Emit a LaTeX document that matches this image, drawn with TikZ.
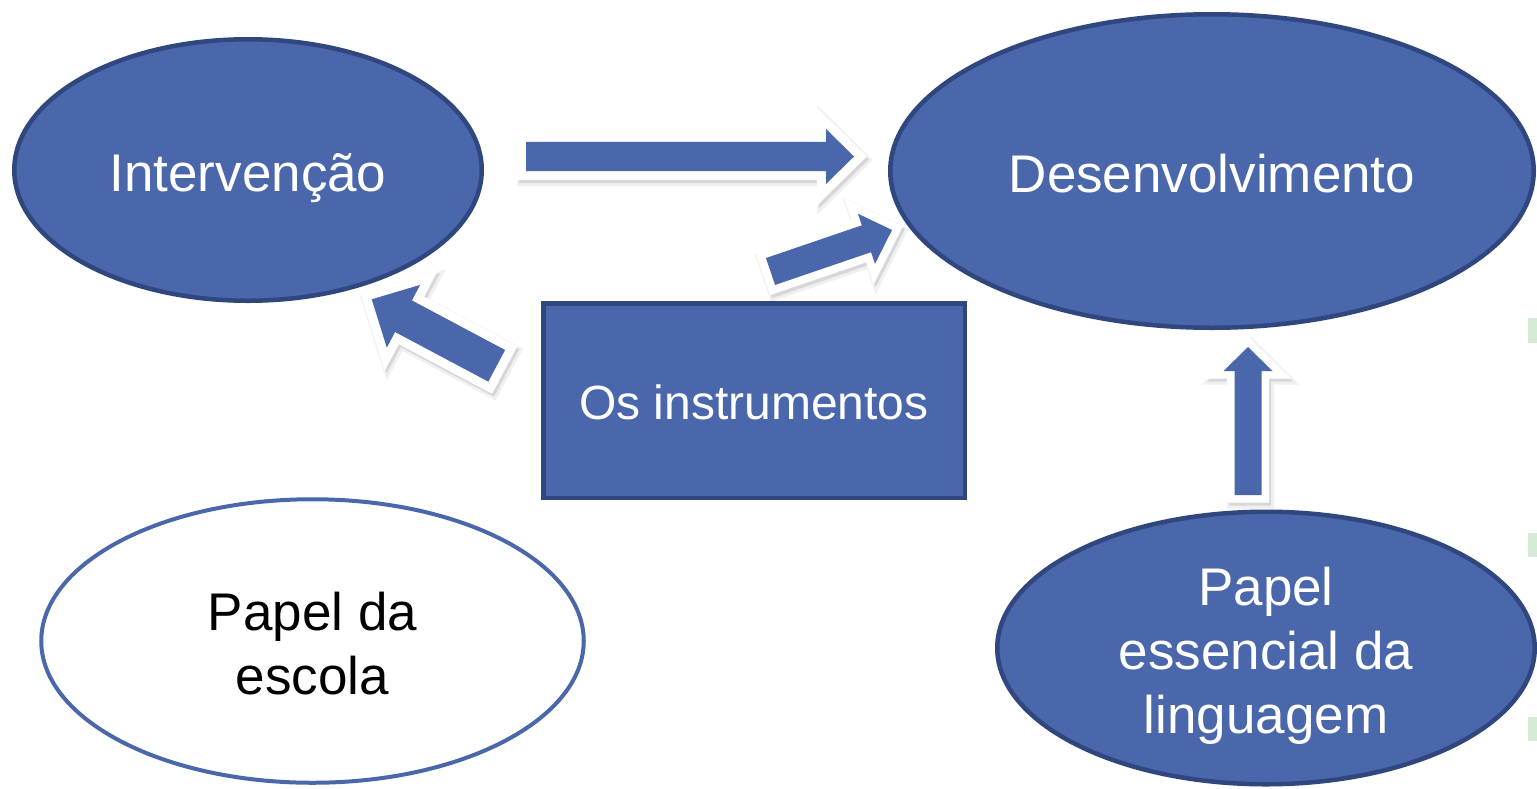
\documentclass[tikz,border=0pt]{standalone}
\usepackage{fontspec}
\setmainfont{Liberation Sans}
\usetikzlibrary{shapes.geometric,calc}
\definecolor{bfill}{RGB}{74,103,172}
\definecolor{bline}{RGB}{47,70,126}
\definecolor{gmark}{RGB}{213,234,213}

% #1 tail coord, #2 tip coord, #3 shaft half width, #4 head half width, #5 head length, #6 white border, #7 prefix
\newcommand{\blockarrow}[7]{%
  \coordinate (#7hb) at ($(#2)!#5!(#1)$);
  \coordinate (#7a) at ($(#1)!#3!90:(#2)$);
  \coordinate (#7b) at ($(#7hb)!#3!90:(#2)$);
  \coordinate (#7c) at ($(#7hb)!#4!90:(#2)$);
  \coordinate (#7d) at ($(#7hb)!#4!-90:(#2)$);
  \coordinate (#7e) at ($(#7hb)!#3!-90:(#2)$);
  \coordinate (#7f) at ($(#1)!#3!-90:(#2)$);
  \arrowpoly{black, opacity=0.06, line width=2*#6+5pt}{#7}{#2}{(2.5,3.5)}
  \arrowpoly{black, opacity=0.10, line width=2*#6}{#7}{#2}{(2,3)}
  \arrowpoly{white, line width=2*#6}{#7}{#2}{(0,0)}
  \fill[bfill] (#7a) -- (#7b) -- (#7c) -- (#2) -- (#7d) -- (#7e) -- (#7f) -- cycle;
}
\newcommand{\arrowpoly}[4]{%
  \draw[#1, line join=miter] ([shift={#4}]#2a) -- ([shift={#4}]#2b) -- ([shift={#4}]#2c) -- ([shift={#4}]#3) -- ([shift={#4}]#2d) -- ([shift={#4}]#2e) -- ([shift={#4}]#2f) -- cycle;
}

\tikzset{
  blueell/.style={ellipse, draw=bline, fill=bfill, line width=4.5pt, inner sep=0pt, text=white, align=center, font=\fontsize{53}{63.6}\selectfont},
  whiteell/.style={ellipse, draw=bfill, fill=white, line width=4pt, inner sep=0pt, text=black, align=center, font=\fontsize{53}{63.6}\selectfont},
  bluebox/.style={rectangle, draw=bline, fill=bfill, line width=4.5pt, inner sep=0pt, text=white, align=center, font=\fontsize{48}{57.6}\selectfont},
  greenmark/.style={fill=gmark, draw=none}
}

\begin{document}
\begin{tikzpicture}[x=1pt, y=-1pt]
\useasboundingbox (0,0) rectangle (1537,788);
\fill[white] (0,0) rectangle (1537,788);

% green marks at right edge
\fill[greenmark] (1528,318) rectangle (1537,343);
\fill[greenmark] (1528,533) rectangle (1537,557);
\fill[greenmark] (1528,717) rectangle (1537,741);

% shapes
\node[blueell, minimum width=467.5pt, minimum height=261.5pt, text height=42pt, text depth=0pt] (interv) at (248,170) {Intervenção};
\node[blueell, minimum width=643.5pt, minimum height=313.5pt, text height=42pt, text depth=0pt] (desenv) at (1212,171) {Desenvolvimento};
\node[bluebox, minimum width=421.5pt, minimum height=194.5pt, text height=37pt, text depth=0pt] (instr) at (754,400.5) {Os instrumentos};
\node[whiteell, minimum width=542.5pt, minimum height=283.5pt, text height=106pt, text depth=0pt] (escola) at (312.5,641) {Papel da\\escola};
\node[blueell, minimum width=537.5pt, minimum height=272.5pt, text height=170pt, text depth=0pt] (ling) at (1266,648) {Papel\\essencial da\\linguagem};

% arrow end points
\coordinate (a1t) at (526,156.5);
\coordinate (a1p) at (854,156.5);
\coordinate (a2t) at (770.5,271.5);
\coordinate (a2p) at (892,230);
\coordinate (a3t) at (496.7,365.8);
\coordinate (a3p) at (371.7,299.3);
\coordinate (a4t) at (1248,495);
\coordinate (a4p) at (1248,347);

% block arrows
\blockarrow{a1t}{a1p}{14.6pt}{27.5pt}{28pt}{9pt}{ha}
\blockarrow{a2t}{a2p}{14.2pt}{26.5pt}{27pt}{8pt}{da}
\blockarrow{a3t}{a3p}{17.9pt}{35.5pt}{36pt}{9pt}{la}
\blockarrow{a4t}{a4p}{13.5pt}{24.5pt}{24pt}{7.5pt}{va}
\end{tikzpicture}
\end{document}
